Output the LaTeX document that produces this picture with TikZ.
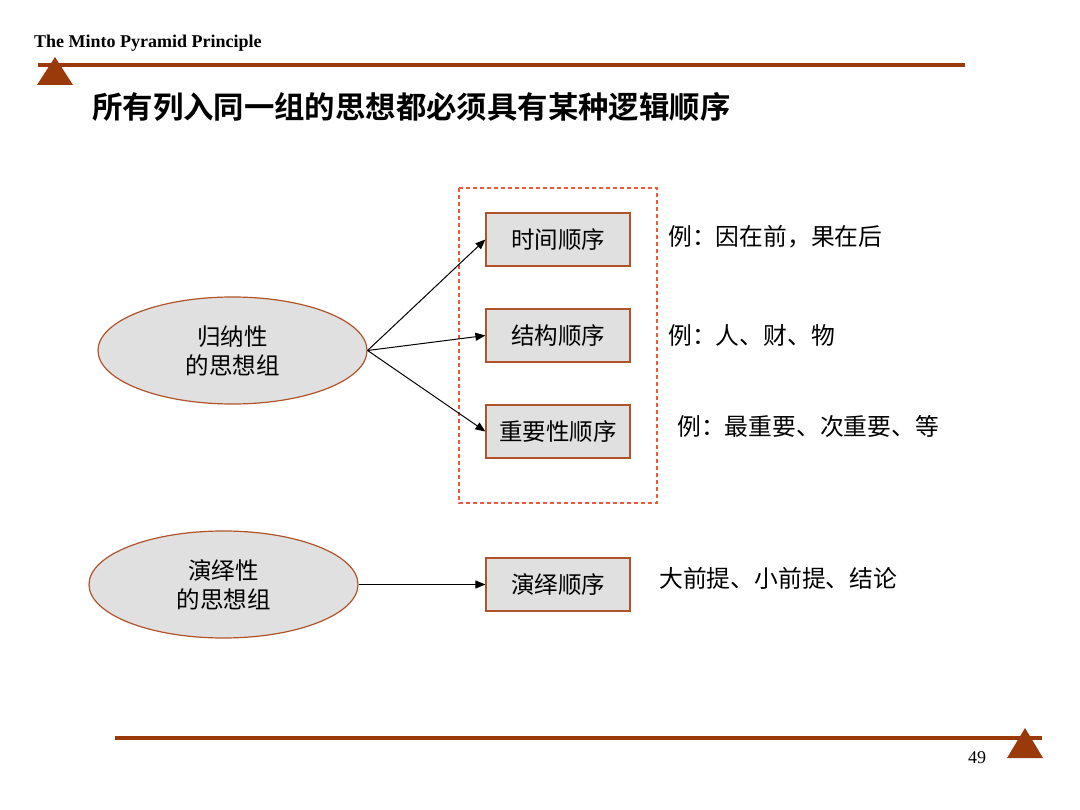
\documentclass[tikz,border=0pt]{standalone}
\usepackage{fontspec}
\setmainfont{Liberation Serif}
\newfontfamily\cjk{Noto Sans CJK SC}
\newfontfamily\cjkb{Noto Sans CJK SC Bold}
\usetikzlibrary{shapes.geometric,arrows.meta}
\definecolor{brownline}{HTML}{9A3A0A}
\definecolor{boxedge}{HTML}{B0532A}
\definecolor{boxfill}{HTML}{E0E0E0}
\definecolor{dashred}{HTML}{F0563A}
\tikzset{
  x=1pt,y=-1pt,
  orderbox/.style={draw=boxedge,fill=boxfill,line width=1.2pt,minimum width=144pt,minimum height=53pt,inner sep=0pt,font=\cjk\fontsize{23.5}{26}\selectfont},
  groupell/.style={ellipse,draw=boxedge,fill=boxfill,line width=1.2pt,minimum width=269pt,minimum height=107pt,inner sep=0pt,align=center,font=\cjk\fontsize{23.5}{29}\selectfont},
  note/.style={anchor=west,inner sep=0pt,font=\cjk\fontsize{23.8}{26}\selectfont},
  conn/.style={-{Triangle[length=10pt,width=8pt]},line width=1pt,black},
  rule/.style={brownline,line width=3.5pt}
}
\begin{document}
\begin{tikzpicture}
\useasboundingbox (0,0) rectangle (1080,810);
% header
\node[anchor=base west,inner sep=0pt,font=\bfseries\fontsize{18}{20}\selectfont] (title) at (34,48) {The Minto Pyramid Principle};
\draw[rule] (38,65) -- (965,65);
\fill[brownline] (55,57) -- (73,85) -- (37,85) -- cycle;
\node[anchor=west,inner sep=0pt,font=\cjkb\fontsize{30.4}{34}\selectfont] (heading) at (92,107) {所有列入同一组的思想都必须具有某种逻辑顺序};
% dashed group
\draw[dashred,dashed,line width=1.2pt,dash pattern=on 4pt off 3pt] (459,188) rectangle (657,503);
% nodes
\node[orderbox] (t) at (558,239.5) {时间顺序};
\node[orderbox] (s) at (558,335.5) {结构顺序};
\node[orderbox] (i) at (558,431.5) {重要性顺序};
\node[orderbox] (d) at (558,584.5) {演绎顺序};
\node[groupell] (g1) at (232.5,350.5) {归纳性\\的思想组};
\node[groupell] (g2) at (223.5,584.5) {演绎性\\的思想组};
% connectors
\draw[conn] (g1.east) -- (t.west);
\draw[conn] (g1.east) -- (s.west);
\draw[conn] (g1.east) -- (i.west);
\draw[conn] (g2.east) -- (d.west);
% notes
\node[note] (n1) at (668,237) {例：因在前，果在后};
\node[note] (n2) at (668,335) {例：人、财、物};
\node[note] (n3) at (677,426) {例：最重要、次重要、等};
\node[note] (n4) at (659,578) {大前提、小前提、结论};
% footer
\draw[rule] (115,738) -- (1042,738);
\fill[brownline] (1025,728) -- (1043,758) -- (1007,758) -- cycle;
\node[anchor=base,inner sep=0pt,font=\fontsize{18}{20}\selectfont] (page) at (977,763) {49};
\end{tikzpicture}
\end{document}
